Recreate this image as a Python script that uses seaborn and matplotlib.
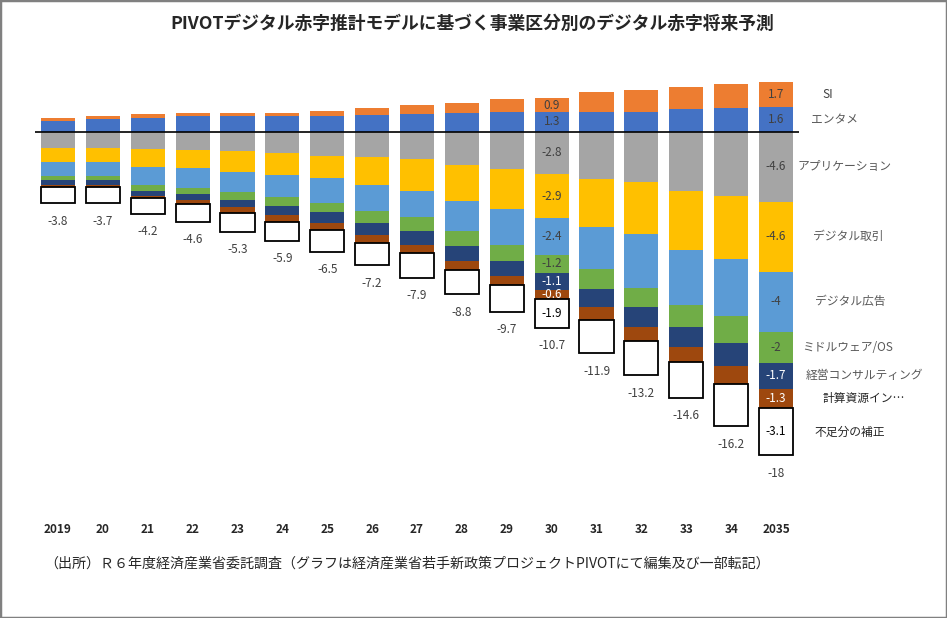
import numpy as np
import pandas as pd
import matplotlib
matplotlib.use("Agg")
import matplotlib.pyplot as plt
import seaborn as sns
from matplotlib.patches import Rectangle

# ---------------- data ----------------
years = ["2019", "20", "21", "22", "23", "24", "25", "26", "27", "28",
         "29", "30", "31", "32", "33", "34", "2035"]

si          = [0.18, 0.20, 0.31, 0.24, 0.24, 0.24, 0.37, 0.48, 0.61, 0.68, 0.86, 0.9, 1.29, 1.43, 1.45, 1.58, 1.7]
entame      = [0.70, 0.81, 0.88, 1.01, 1.01, 1.01, 1.01, 1.07, 1.14, 1.21, 1.27, 1.3, 1.32, 1.32, 1.51, 1.58, 1.6]
application = [-1.10, -1.10, -1.16, -1.23, -1.29, -1.40, -1.62, -1.69, -1.80, -2.19, -2.43, -2.8, -3.14, -3.31, -3.93, -4.23, -4.6]
trade       = [-0.92, -0.92, -1.16, -1.16, -1.34, -1.43, -1.45, -1.84, -2.11, -2.35, -2.68, -2.9, -3.11, -3.44, -3.82, -4.17, -4.6]
advert      = [-0.88, -0.88, -1.21, -1.34, -1.36, -1.45, -1.60, -1.69, -1.71, -2.00, -2.32, -2.4, -2.81, -3.51, -3.62, -3.73, -4.0]
middleware  = [-0.31, -0.31, -0.39, -0.39, -0.50, -0.64, -0.64, -0.79, -0.92, -0.99, -1.07, -1.2, -1.29, -1.27, -1.47, -1.80, -2.0]
consulting  = [-0.31, -0.31, -0.33, -0.37, -0.48, -0.57, -0.70, -0.77, -0.94, -0.99, -1.01, -1.1, -1.18, -1.29, -1.34, -1.51, -1.7]
compute     = [-0.13, -0.13, -0.13, -0.24, -0.39, -0.42, -0.44, -0.53, -0.53, -0.57, -0.55, -0.6, -0.86, -0.96, -0.96, -1.18, -1.3]
correction  = [-1.05, -1.05, -1.01, -1.18, -1.23, -1.27, -1.45, -1.47, -1.60, -1.60, -1.78, -1.9, -2.19, -2.24, -2.37, -2.74, -3.1]

totals = [-3.8, -3.7, -4.2, -4.6, -5.3, -5.9, -6.5, -7.2, -7.9, -8.8,
          -9.7, -10.7, -11.9, -13.2, -14.6, -16.2, -18]

pos_names = ["エンタメ", "SI"]
neg_names = ["アプリケーション", "デジタル取引", "デジタル広告", "ミドルウェア/OS",
             "経営コンサルティング", "計算資源イン…", "不足分の補正"]
labeled_years = ["30", "2035"]

title = "PIVOTデジタル赤字推計モデルに基づく事業区分別のデジタル赤字将来予測"
source = "（出所）Ｒ６年度経済産業省委託調査（グラフは経済産業省若手新政策プロジェクトPIVOTにて編集及び一部転記）"

# ---------------- styles ----------------
colors = {
    "SI": "#ED7D31", "エンタメ": "#4472C4", "アプリケーション": "#A5A5A5",
    "デジタル取引": "#FFC000", "デジタル広告": "#5B9BD5", "ミドルウェア/OS": "#70AD47",
    "経営コンサルティング": "#264478", "計算資源イン…": "#9E480E", "不足分の補正": "#FFFFFF",
}
text_colors = {
    "SI": "#404040", "エンタメ": "#404040", "アプリケーション": "#404040",
    "デジタル取引": "#404040", "デジタル広告": "#404040", "ミドルウェア/OS": "#404040",
    "経営コンサルティング": "#FFFFFF", "計算資源イン…": "#FFFFFF", "不足分の補正": "#000000",
}
# horizontal centre (pixels) of the series-name labels at right
name_x_px = {
    "SI": 828, "エンタメ": 834, "アプリケーション": 845, "デジタル取引": 848,
    "デジタル広告": 850, "ミドルウェア/OS": 848, "経営コンサルティング": 864,
    "計算資源イン…": 864, "不足分の補正": 850,
}
name_colors = {
    "SI": "#404040", "エンタメ": "#595959", "アプリケーション": "#595959",
    "デジタル取引": "#595959", "デジタル広告": "#595959", "ミドルウェア/OS": "#595959",
    "経営コンサルティング": "#595959", "計算資源イン…": "#262626", "不足分の補正": "#262626",
}

sns.set_style("white")
plt.rcParams["font.family"] = ["Noto Sans CJK JP", "DejaVu Sans"]

W, H = 947, 618
fig = plt.figure(figsize=(W / 100, H / 100), dpi=100)
fig.patch.set_facecolor("white")

ax_left, ax_right, ax_top, ax_bottom = 35, 799, 75, 515
ax = fig.add_axes([ax_left / W, 1 - ax_bottom / H, (ax_right - ax_left) / W, (ax_bottom - ax_top) / H])

series = {
    "SI": si, "エンタメ": entame, "アプリケーション": application, "デジタル取引": trade,
    "デジタル広告": advert, "ミドルウェア/OS": middleware, "経営コンサルティング": consulting,
    "計算資源イン…": compute, "不足分の補正": correction,
}

bar_w = 0.76
segments = {}
# positive stack
cum = np.zeros(len(years))
for name in pos_names:
    vals = np.array(series[name], dtype=float)
    sns.barplot(x=years, y=vals, bottom=cum.copy(), color=colors[name], saturation=1,
                width=bar_w, errorbar=None, linewidth=0, ax=ax)
    segments[name] = (cum.copy(), vals)
    cum = cum + vals
# negative stack
cum = np.zeros(len(years))
for name in neg_names:
    vals = np.array(series[name], dtype=float)
    if name == "不足分の補正":
        sns.barplot(x=years, y=vals, bottom=cum.copy(), color="white", saturation=1,
                    width=bar_w, errorbar=None, edgecolor="black", linewidth=1.3, ax=ax)
    else:
        sns.barplot(x=years, y=vals, bottom=cum.copy(), color=colors[name], saturation=1,
                    width=bar_w, errorbar=None, linewidth=0, ax=ax)
    segments[name] = (cum.copy(), vals)
    cum = cum + vals
neg_bottom = cum

ax.axhline(0, color="black", linewidth=1.2, zorder=5)

# value labels in selected columns
for yr in labeled_years:
    i = years.index(yr)
    for name, (bot, vals) in segments.items():
        v = vals[i]
        ax.text(i, bot[i] + v / 2, f"{v:g}", ha="center", va="center",
                fontsize=8.5, color=text_colors[name], zorder=6)

# totals below each column
for i, t in enumerate(totals):
    ax.annotate(f"{t:g}", xy=(i, neg_bottom[i]), xytext=(0, -13),
                textcoords="offset points", ha="center", va="center",
                fontsize=8.5, color="#404040")

ax.set_xlim(-0.51, len(years) - 0.49)
ax.set_ylim(-(ax_bottom - 131.7) / 15.2, (131.7 - ax_top) / 15.2)

# series names at right (x given in figure pixels, y from the last column)
last = len(years) - 1
for name, (bot, vals) in segments.items():
    y_disp = ax.transData.transform((0, bot[last] + vals[last] / 2))[1]
    fig.text(name_x_px[name] / W, y_disp / fig.bbox.height, name, ha="center", va="center",
             fontsize=8.5, color=name_colors[name])

ax.set_yticks([])
ax.set_ylabel("")
ax.set_xlabel("")
ax.tick_params(axis="x", length=0, pad=6)
for lbl in ax.get_xticklabels():
    lbl.set_fontweight("bold")
    lbl.set_fontsize(8.5)
for s in ax.spines.values():
    s.set_visible(False)

fig.text(0.499, 1 - 24 / H, title, ha="center", va="center", fontsize=12.8, fontweight="bold")
fig.text(44 / W, 1 - 564 / H, source, ha="left", va="center", fontsize=10.1, color="#262626")

fig.add_artist(Rectangle((0, 0), 1, 1, transform=fig.transFigure, fill=False,
                         edgecolor="#808080", linewidth=2.5, zorder=10))

fig.savefig("out.png", dpi=100)
